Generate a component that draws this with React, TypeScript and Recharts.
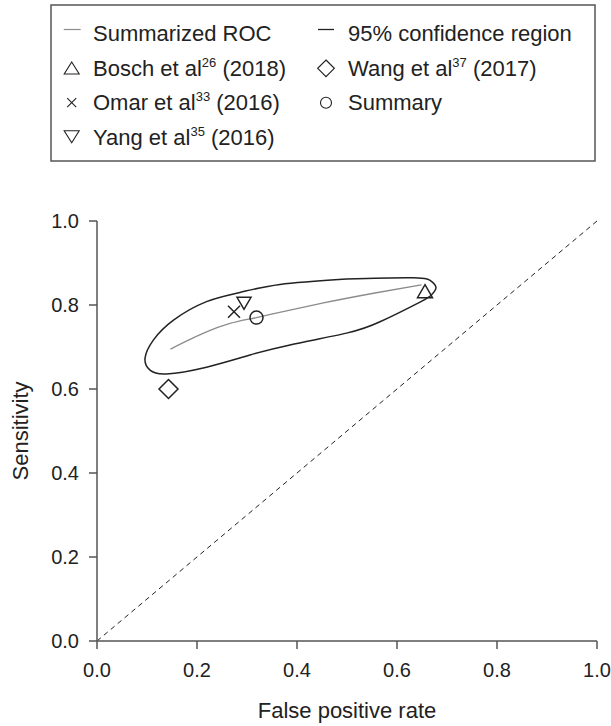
import React from 'react';
import { ComposedChart, Line, Scatter, XAxis, YAxis } from 'recharts';

const FONT = '"Liberation Sans", Arial, Helvetica, sans-serif';
const INK = '#222222';
const AXIS = '#555555';

const xTicks = [0, 0.2, 0.4, 0.6, 0.8, 1.0];
const yTicks = [0, 0.2, 0.4, 0.6, 0.8, 1.0];

// reference line (chance)
const chanceLine = [
	{ x: 0, y: 0 },
	{ x: 1, y: 1 },
];

// summarized ROC curve
const srocCurve = [
	{ x: 0.147, y: 0.695 },
	{ x: 0.186, y: 0.718 },
	{ x: 0.219, y: 0.736 },
	{ x: 0.266, y: 0.756 },
	{ x: 0.319, y: 0.770 },
	{ x: 0.386, y: 0.788 },
	{ x: 0.453, y: 0.805 },
	{ x: 0.553, y: 0.828 },
	{ x: 0.649, y: 0.848 },
];

// 95% confidence region, closed loop (clockwise from top middle)
const confidenceRegion = [
	{ x: 0.499, y: 0.862 },
	{ x: 0.633, y: 0.865 },
	{ x: 0.669, y: 0.856 },
	{ x: 0.678, y: 0.841 },
	{ x: 0.669, y: 0.824 },
	{ x: 0.646, y: 0.807 },
	{ x: 0.566, y: 0.760 },
	{ x: 0.499, y: 0.733 },
	{ x: 0.386, y: 0.705 },
	{ x: 0.306, y: 0.681 },
	{ x: 0.219, y: 0.652 },
	{ x: 0.139, y: 0.636 },
	{ x: 0.106, y: 0.645 },
	{ x: 0.096, y: 0.673 },
	{ x: 0.113, y: 0.717 },
	{ x: 0.153, y: 0.764 },
	{ x: 0.219, y: 0.808 },
	{ x: 0.286, y: 0.830 },
	{ x: 0.366, y: 0.849 },
	{ x: 0.499, y: 0.862 },
];

// individual studies + summary point
const bosch = [{ x: 0.656, y: 0.833 }];
const omar = [{ x: 0.274, y: 0.784 }];
const yang = [{ x: 0.294, y: 0.804 }];
const wang = [{ x: 0.143, y: 0.600 }];
const summary = [{ x: 0.319, y: 0.770 }];

const studyNames = ['Bosch et al', 'Omar et al', 'Yang et al', 'Wang et al'];
const studyRefs = ['26', '33', '35', '37'];
const studyYears = ['2018', '2016', '2016', '2017'];

const TriUp = ({ cx, cy, w = 15, h = 13, sw = 1.5 }: any) => (
	<path d={`M${cx},${cy - h / 2}L${cx + w / 2},${cy + h / 2}L${cx - w / 2},${cy + h / 2}Z`} fill="none" stroke={INK} strokeWidth={sw} />
);
const TriDown = ({ cx, cy, w = 14, h = 12, sw = 1.5 }: any) => (
	<path d={`M${cx - w / 2},${cy - h / 2}L${cx + w / 2},${cy - h / 2}L${cx},${cy + h / 2}Z`} fill="none" stroke={INK} strokeWidth={sw} />
);
const Diamond = ({ cx, cy, r = 9.5, sw = 1.5 }: any) => (
	<path d={`M${cx},${cy - r}L${cx + r},${cy}L${cx},${cy + r}L${cx - r},${cy}Z`} fill="none" stroke={INK} strokeWidth={sw} />
);
const Cross = ({ cx, cy, r = 6, sw = 1.5 }: any) => (
	<path d={`M${cx - r},${cy - r}L${cx + r},${cy + r}M${cx + r},${cy - r}L${cx - r},${cy + r}`} fill="none" stroke={INK} strokeWidth={sw} />
);
const Ring = ({ cx, cy, r = 6.5, sw = 1.5 }: any) => (
	<circle cx={cx} cy={cy} r={r} fill="none" stroke={INK} strokeWidth={sw} />
);

const Study = ({ i, x, y }: { i: number; x: number; y: number }) => (
	<text x={x} y={y} fontSize={22} fill={INK}>
		{studyNames[i]}
		<tspan fontSize={13} dy={-9}>{studyRefs[i]}</tspan>
		<tspan dy={9}>{` (${studyYears[i]})`}</tspan>
	</text>
);

const LegendBox = () => {
	const c1 = 71.7;
	const c2 = 326;
	const t1 = 93;
	const t2 = 348;
	const rows = [41, 75.7, 110.3, 145];
	return (
		<svg width={611} height={170} style={{ position: 'absolute', left: 0, top: 0, fontFamily: FONT }}>
			<rect x={51} y={5} width={544} height={156} fill="#fff" stroke={AXIS} strokeWidth={1.5} />
			<line x1={c1 - 8} x2={c1 + 9} y1={29.5} y2={29.5} stroke="#8c8c8c" strokeWidth={1.2} />
			<text x={t1} y={rows[0]} fontSize={22} fill={INK}>Summarized ROC</text>
			<line x1={c2 - 8} x2={c2 + 8} y1={29.5} y2={29.5} stroke={INK} strokeWidth={1.3} />
			<text x={t2} y={rows[0]} fontSize={22} fill={INK}>95% confidence region</text>
			<TriUp cx={c1} cy={68} w={15} h={12} sw={1.1} />
			<Study i={0} x={t1} y={rows[1]} />
			<Diamond cx={c2} cy={68.3} r={8.3} sw={1.2} />
			<Study i={3} x={t2} y={rows[1]} />
			<Cross cx={c1} cy={102.7} r={4.5} sw={1.1} />
			<Study i={1} x={t1} y={rows[2]} />
			<Ring cx={c2} cy={102.7} r={5.5} sw={1.1} />
			<text x={t2} y={rows[2]} fontSize={22} fill={INK}>Summary</text>
			<TriDown cx={c1} cy={136.7} w={15} h={12} sw={1.1} />
			<Study i={2} x={t1} y={rows[3]} />
		</svg>
	);
};

const tickStyle = { fontFamily: FONT, fontSize: 20, fill: INK };
const axisStroke = { stroke: AXIS, strokeWidth: 1.5 };

export default function App() {
	return (
		<div style={{ position: 'absolute', left: 0, top: 0, width: 611, height: 726, fontFamily: FONT, background: '#fff' }}>
			<ComposedChart width={611} height={726} margin={{ top: 221, right: 14, bottom: 0, left: 0 }}>
				<XAxis
					type="number"
					dataKey="x"
					domain={[0, 1]}
					ticks={xTicks}
					tickFormatter={(v: number) => v.toFixed(1)}
					tick={tickStyle}
					tickSize={8}
					tickMargin={14}
					axisLine={axisStroke}
					tickLine={axisStroke}
					height={85}
					label={{ value: 'False positive rate', position: 'insideBottom', offset: 8, style: { fontFamily: FONT, fontSize: 22, fill: INK } }}
				/>
				<YAxis
					type="number"
					dataKey="y"
					domain={[0, 1]}
					ticks={yTicks}
					tickFormatter={(v: number) => v.toFixed(1)}
					tick={tickStyle}
					tickSize={8}
					tickMargin={10}
					axisLine={axisStroke}
					tickLine={axisStroke}
					width={97}
					label={{ value: 'Sensitivity', angle: -90, position: 'insideLeft', offset: 20, style: { fontFamily: FONT, fontSize: 22, fill: INK, textAnchor: 'middle' } }}
				/>
				<Line data={chanceLine} dataKey="y" type="linear" stroke={INK} strokeWidth={1} strokeDasharray="5 4" dot={false} activeDot={false} isAnimationActive={false} />
				<Line data={srocCurve} dataKey="y" type="monotone" stroke="#8c8c8c" strokeWidth={1.3} dot={false} activeDot={false} isAnimationActive={false} />
				<Line data={confidenceRegion} dataKey="y" type="natural" stroke={INK} strokeWidth={1.5} dot={false} activeDot={false} isAnimationActive={false} />
				<Scatter data={bosch} shape={(p: any) => <TriUp cx={p.cx} cy={p.cy} />} isAnimationActive={false} />
				<Scatter data={omar} shape={(p: any) => <Cross cx={p.cx} cy={p.cy} />} isAnimationActive={false} />
				<Scatter data={yang} shape={(p: any) => <TriDown cx={p.cx} cy={p.cy} />} isAnimationActive={false} />
				<Scatter data={wang} shape={(p: any) => <Diamond cx={p.cx} cy={p.cy} />} isAnimationActive={false} />
				<Scatter data={summary} shape={(p: any) => <Ring cx={p.cx} cy={p.cy} />} isAnimationActive={false} />
			</ComposedChart>
			<LegendBox />
		</div>
	);
}
